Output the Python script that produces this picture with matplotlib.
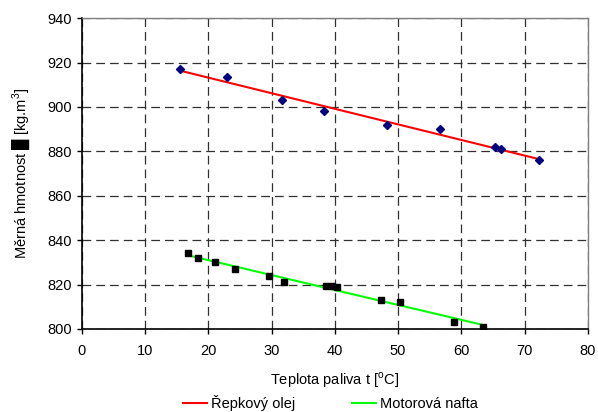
import numpy as np
import matplotlib
matplotlib.use("Agg")
import matplotlib.pyplot as plt

plt.rcParams['font.family'] = ['Liberation Sans', 'DejaVu Sans']

# Řepkový olej (rapeseed oil)
rep_t = [15.5, 22.9, 31.6, 38.3, 48.2, 56.6, 65.3, 66.2, 72.3]
rep_rho = [917.0, 913.5, 903.0, 898.0, 892.0, 890.0, 882.0, 881.0, 876.0]

# Motorová nafta (diesel)
naf_t = [16.7, 18.4, 21.0, 24.2, 29.6, 32.0, 38.6, 39.5, 40.3, 47.3, 50.3, 58.8, 63.4]
naf_rho = [834.0, 832.0, 830.0, 826.8, 824.0, 821.0, 819.2, 819.5, 818.8, 813.2, 812.3, 803.2, 801.0]

x_ticks = [0, 10, 20, 30, 40, 50, 60, 70, 80]
y_ticks = [800, 820, 840, 860, 880, 900, 920, 940]

fig = plt.figure(figsize=(5.98, 4.12), dpi=100)
ax = fig.add_axes([0.137, 0.2015, 0.846, 0.7545])

def trend(x, y):
    x = np.asarray(x); y = np.asarray(y)
    k, q = np.polyfit(x, y, 1)
    xs = np.array([x.min(), x.max()])
    return xs, k * xs + q

xs, ys = trend(rep_t, rep_rho)
ax.plot(xs, ys, color='#ff0000', lw=1.5, zorder=3, label='Řepkový olej')
xs, ys = trend(naf_t, naf_rho)
ax.plot(xs, ys, color='#00ff00', lw=1.5, zorder=3, label='Motorová nafta')

ax.plot(rep_t, rep_rho, 'D', color='#000080', ms=4, zorder=4)
ax.plot(naf_t, naf_rho, 's', color='#000000', ms=4.5, zorder=4)

ax.set_xlim(0, 80)
ax.set_ylim(800, 940)
ax.set_xticks(x_ticks)
ax.set_yticks(y_ticks)
ax.tick_params(labelsize=10.5, length=3.5, width=1, direction='out', colors='#000000', pad=4)
ax.tick_params(axis='x', pad=7)
ax.grid(True, color='#303030', linestyle=(0, (7, 4)), lw=0.9)
ax.set_axisbelow(True)

for s in ['left', 'bottom']:
    ax.spines[s].set_color('#000000')
    ax.spines[s].set_linewidth(1.2)
for s in ['top', 'right']:
    ax.spines[s].set_color('#808080')
    ax.spines[s].set_linewidth(1.0)

ax.set_xlabel('Teplota paliva t [$^{\\mathregular{o}}$C]', fontsize=10.5, labelpad=9)
ax.set_ylabel('Měrná hmotnost \u2588 [kg.m$^{\\mathregular{3}}$]', fontsize=10.5, labelpad=10)

fig.legend(loc='center', bbox_to_anchor=(0.553, 0.022), ncol=2, frameon=False,
           fontsize=10.5, handlelength=1.6, handletextpad=0.3, columnspacing=3.9,
           borderpad=0, borderaxespad=0)

fig.savefig('out.png', dpi=100)
